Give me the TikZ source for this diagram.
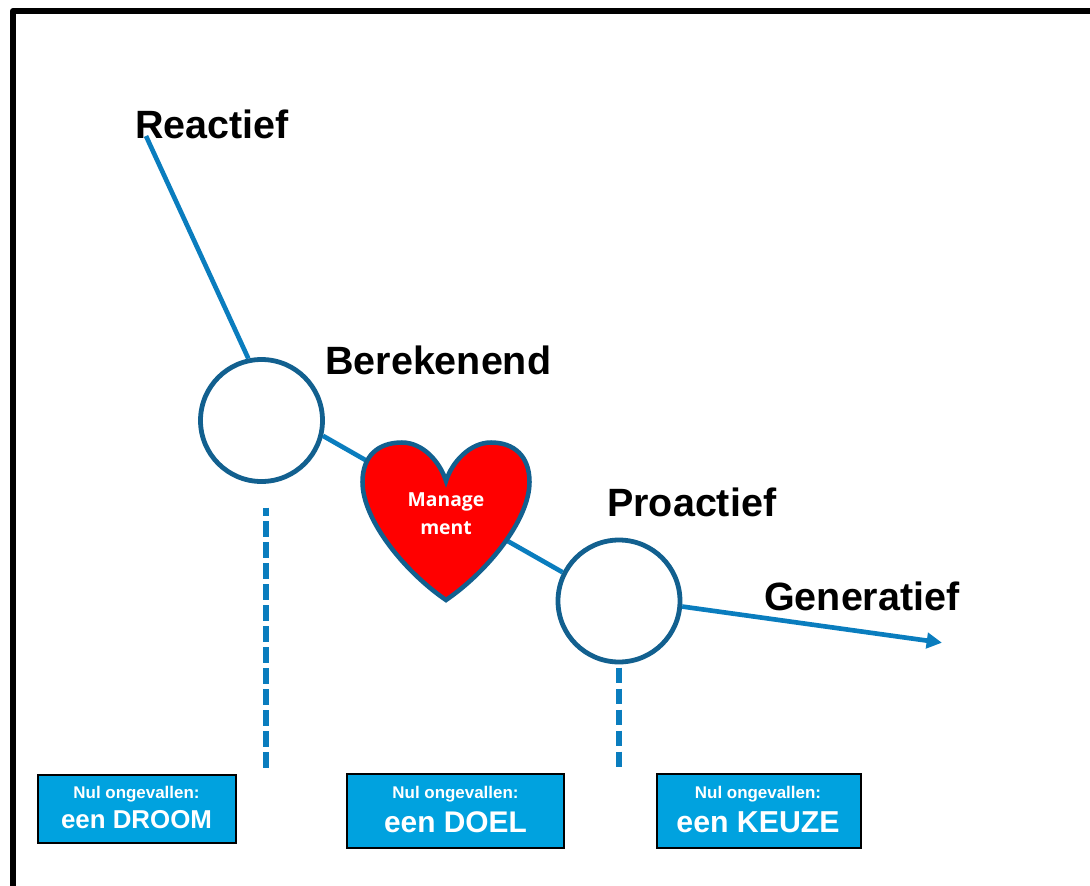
\documentclass[tikz,border=0pt]{standalone}
\usepackage{fontspec}
\setmainfont{Liberation Sans}
\newfontfamily\mgmtfont{Open Sans}
\usetikzlibrary{arrows.meta}
\definecolor{linkblue}{HTML}{0A7DBE}
\definecolor{ringblue}{HTML}{12608F}
\definecolor{boxblue}{HTML}{00A2DF}
\tikzset{
  x=0.75pt,y=-0.75pt,
  ring/.style={circle,draw=ringblue,line width=3.6pt,fill=white,minimum size=91.5pt,inner sep=0pt},
  link/.style={draw=linkblue,line width=3.5pt},
  dashlink/.style={draw=linkblue,line width=4.2pt,dash pattern=on 11.6pt off 4.15pt},
  title/.style={font=\bfseries\fontsize{29.6}{32}\selectfont,text=black,inner sep=0pt,anchor=base west},
  goal/.style={draw=black,line width=1.5pt,fill=boxblue,text=white,align=center,inner sep=0pt},
  smalltxt/.style={font=\bfseries\fontsize{12.7}{14}\selectfont,text=white,inner sep=0pt,anchor=base},
}
\begin{document}
\begin{tikzpicture}
\useasboundingbox (0,0) rectangle (1090,886);
% frame: only top and left show
\draw[black,line width=4.5pt,line join=round] (13,886) -- (13,11) -- (1090,11);
% connector anchors
\coordinate (rstart) at (146,136);
\coordinate (gend) at (942,642.7);
\coordinate (d1top) at (266,507.5);
\coordinate (d1bot) at (266,767.5);
\coordinate (d2top) at (619,667.5);
\coordinate (d2bot) at (619,767.5);
% rings
\node[ring] (c1) at (261.5,420.5) {};
\node[ring] (c2) at (619,601) {};
\coordinate (hc) at (446,506);
% connectors
\draw[link] (rstart) -- (c1.102);
\draw[link] (c1.-14) -- (hc) -- (c2.153);
\draw[link,-{Triangle[length=11.5pt,width=11.5pt]}] (c2.-5) -- (gend);
\draw[dashlink,dash phase=5.6pt] (d1top) -- (d1bot);
\draw[dashlink] (d2top) -- (d2bot);
% heart
\draw[draw=ringblue,fill=red,line width=3.4pt,line join=miter]
  (446,481)
  .. controls (440,462) and (423,442.5) .. (402,442.5)
  .. controls (378,442.5) and (362.5,456) .. (362.5,482)
  .. controls (362.5,520) and (405,572) .. (446,600)
  .. controls (487,572) and (529.5,520) .. (529.5,482)
  .. controls (529.5,456) and (514,442.5) .. (491,442.5)
  .. controls (470,442.5) and (452,462) .. (446,481) -- cycle;
\node[font=\mgmtfont\bfseries\fontsize{14.5}{21}\selectfont,text=white,align=center,inner sep=0pt] (mgmt) at (446,514) {Manage\\ment};
% titles
\node[title] (t1) at (135,138) {Reactief};
\node[title] (t2) at (325,374) {Berekenend};
\node[title] (t3) at (607,516) {Proactief};
\node[title] (t4) at (764,610) {Generatief};
% goal boxes
\node[goal,minimum width=149pt,minimum height=51pt] (b1) at (137,808.5) {};
\node[goal,minimum width=163pt,minimum height=55.5pt] (b2) at (455.5,810.5) {};
\node[goal,minimum width=153pt,minimum height=55.5pt] (b3) at (758.5,810.5) {};
\node[smalltxt] (s1) at (136.5,798) {Nul ongevallen:};
\node[smalltxt] (s2) at (455.5,798) {Nul ongevallen:};
\node[smalltxt] (s3) at (758,798) {Nul ongevallen:};
\node[font=\bfseries\fontsize{19.4}{22}\selectfont,text=white,inner sep=0pt,anchor=base] (m1) at (136.5,828) {een DROOM};
\node[font=\bfseries\fontsize{22.4}{24}\selectfont,text=white,inner sep=0pt,anchor=base] (m2) at (455.5,832) {een DOEL};
\node[font=\bfseries\fontsize{22.7}{24}\selectfont,text=white,inner sep=0pt,anchor=base] (m3) at (758,832) {een KEUZE};
\end{tikzpicture}
\end{document}
